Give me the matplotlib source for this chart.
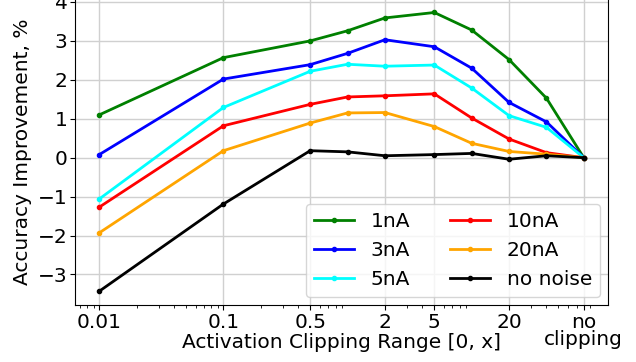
import numpy as np
import matplotlib
matplotlib.use('Agg')
from matplotlib import pyplot as plt
from matplotlib.ticker import NullFormatter

font_size = 14.5

# clipping range; the last point stands for "no clipping"
clip_range = [0.01, 0.1, 0.5, 1, 2, 5, 10, 20, 40, 80]
tick_pos = [0.01, 0.1, 0.5, 2, 5, 20, 80]
tick_labels = ['0.01', '0.1', '0.5', '2', '5', '20', 'no\nclipping']

acc_1nA = [1.10, 2.57, 3.00, 3.26, 3.59, 3.73, 3.28, 2.52, 1.53, 0.0]
acc_3nA = [0.08, 2.02, 2.39, 2.68, 3.03, 2.85, 2.30, 1.42, 0.92, 0.0]
acc_5nA = [-1.06, 1.29, 2.22, 2.40, 2.35, 2.38, 1.79, 1.08, 0.78, 0.0]
acc_10nA = [-1.27, 0.82, 1.37, 1.56, 1.59, 1.64, 1.02, 0.48, 0.13, 0.0]
acc_20nA = [-1.93, 0.18, 0.89, 1.15, 1.16, 0.80, 0.37, 0.16, 0.09, 0.0]
acc_none = [-3.43, -1.19, 0.18, 0.15, 0.05, 0.08, 0.11, -0.04, 0.05, 0.0]

series = [acc_1nA, acc_3nA, acc_5nA, acc_10nA, acc_20nA, acc_none]
names = ['1nA', '3nA', '5nA', '10nA', '20nA', 'no noise']
colors = ['green', 'blue', 'cyan', 'red', 'orange', 'black']


def main():
	matplotlib.rcParams.update({'font.size': font_size})
	fig = plt.figure(figsize=(6.36, 3.62), dpi=100)
	ax = fig.add_axes([0.118, 0.157, 0.838, 0.847])

	for vals, name, c in zip(series, names, colors):
		ax.plot(clip_range, vals, '.-', color=c, label=name, lw=2, ms=6)

	ax.set_xscale('log')
	ax.set_xticks(tick_pos)
	ax.set_xticklabels(tick_labels, linespacing=0.85)
	ax.xaxis.set_minor_formatter(NullFormatter())
	ax.set_yticks([-3, -2, -1, 0, 1, 2, 3, 4])
	ax.tick_params(axis='both', pad=2)
	ax.grid(True, which='major', color='#d0d0d0', lw=1)
	ax.set_axisbelow(True)

	ax.set_xlabel('Activation Clipping Range [0, x]')
	ax.xaxis.set_label_coords(0.5, -0.09)
	ax.set_ylabel('Accuracy Improvement, %', labelpad=4)
	ax.legend(ncol=2, loc='lower right', columnspacing=2.0, borderaxespad=0.4)

	plt.savefig('out.png', dpi=100)


if __name__ == "__main__":
	main()
